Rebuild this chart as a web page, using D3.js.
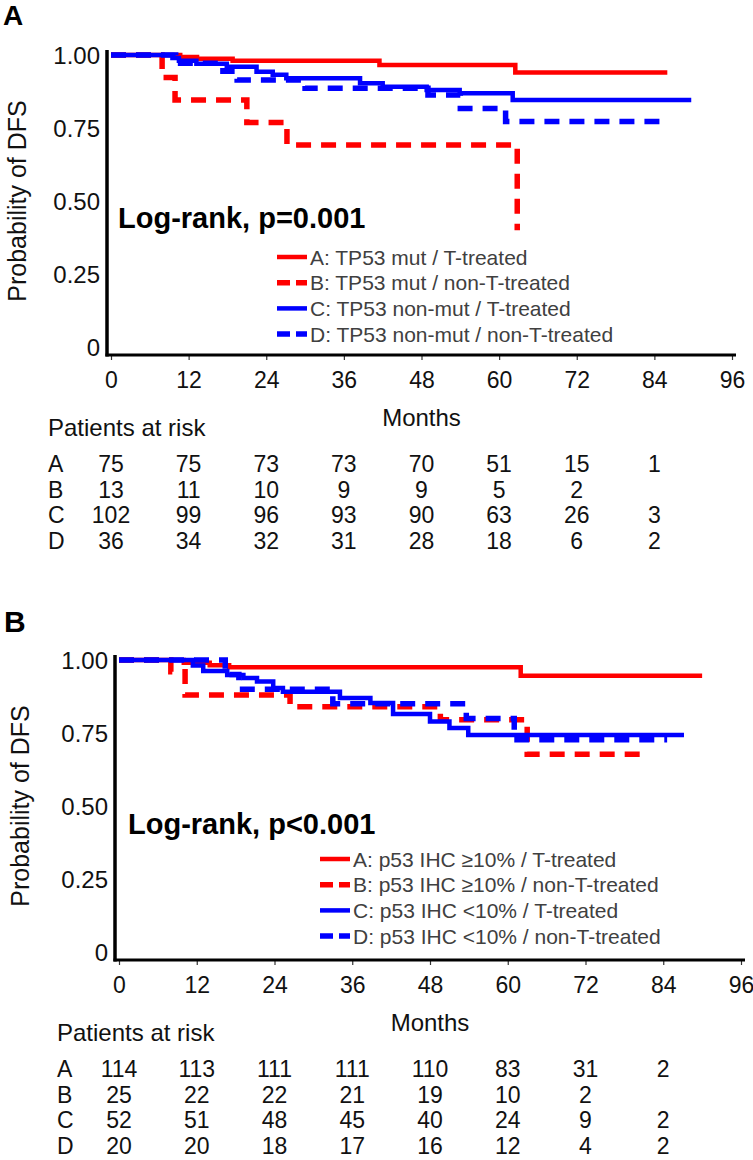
<!DOCTYPE html>
<html><head><meta charset="utf-8">
<script src="https://cdn.jsdelivr.net/npm/d3@7"></script>
<style>
body{margin:0;background:#fff;}
svg{display:block;font-family:"Liberation Sans",Arial,Helvetica,sans-serif;}
</style></head><body>
<svg id="chart" width="753" height="1160"></svg>
<script>
// ---------- data ----------
const monthTicks = [0, 12, 24, 36, 48, 60, 72, 84, 96];
const riskMonths = [0, 12, 24, 36, 48, 60, 72, 84];
const yTickValues = [0, 0.25, 0.5, 0.75, 1];
const yTickLabels = ["0", "0.25", "0.50", "0.75", "1.00"];
const groupLetters = ["A", "B", "C", "D"];
const groupColors = ["#ff0000", "#ff0000", "#0000ff", "#0000ff"];
const groupDashed = [false, true, false, true];

const legendTextA = ["A: TP53 mut / T-treated", "B: TP53 mut / non-T-treated",
                     "C: TP53 non-mut / T-treated", "D: TP53 non-mut / non-T-treated"];
const legendTextB = ["A: p53 IHC \u226510% / T-treated", "B: p53 IHC \u226510% / non-T-treated",
                     "C: p53 IHC <10% / T-treated", "D: p53 IHC <10% / non-T-treated"];
const pTextA = "Log-rank, p=0.001";
const pTextB = "Log-rank, p<0.001";

// Kaplan-Meier curves, [month, survival]; last point = end of follow-up
const kmA_A = [[0,1],[10.7,0.993],[13.3,0.987],[18.8,0.98],[41.5,0.966],[62.5,0.94],[86,0.94]];
const kmA_B = [[0,1],[7.9,0.923],[9.9,0.846],[21,0.769],[27.2,0.692],[62.8,0.40]];
const kmA_C = [[0,1],[9.5,0.99],[10.5,0.98],[13.2,0.97],[17.9,0.96],[22.5,0.943],[25,0.932],[27.1,0.92],
               [38.5,0.903],[42,0.891],[48.8,0.88],[53.9,0.869],[62.1,0.846],[89.7,0.846]];
const kmA_D = [[0,1],[10,0.972],[17.3,0.944],[19.5,0.914],[30,0.886],[49,0.863],[54,0.817],[61,0.772],[85,0.772]];

const kmB_A = [[0,1],[10,0.991],[14,0.982],[17,0.975],[62,0.946],[90,0.946]];
const kmB_B = [[0,1],[8,0.96],[10.2,0.88],[26.4,0.84],[49.6,0.795],[63,0.677],[81.7,0.677]];
const kmB_C = [[0,1],[11.4,0.981],[13,0.962],[16.7,0.949],[19.2,0.938],[21.3,0.926],[23.8,0.904],[25.3,0.891],
               [34.1,0.87],[38.8,0.853],[42.3,0.815],[48,0.789],[51,0.767],[53.9,0.743],[87.2,0.743]];
const kmB_D = [[0,1],[16.4,0.95],[18.5,0.90],[33,0.85],[53.6,0.80],[61,0.727],[84.6,0.727]];

// patients at risk
const riskA_A = [75, 75, 73, 73, 70, 51, 15, 1];
const riskA_B = [13, 11, 10, 9, 9, 5, 2];
const riskA_C = [102, 99, 96, 93, 90, 63, 26, 3];
const riskA_D = [36, 34, 32, 31, 28, 18, 6, 2];
const riskB_A = [114, 113, 111, 111, 110, 83, 31, 2];
const riskB_B = [25, 22, 22, 21, 19, 10, 2];
const riskB_C = [52, 51, 48, 45, 40, 24, 9, 2];
const riskB_D = [20, 20, 18, 17, 16, 12, 4, 2];

// ---------- layout ----------
const panels = [
  {label:"A", labelX:3, labelY:25, labelSize:28, x0:111, x1:732, yTop:55, yBot:347, axisX:107, axisY:355,
   curves:[kmA_A,kmA_B,kmA_C,kmA_D], legend:legendTextA, legendX:277, legendY:257,
   pText:pTextA, pX:118, pY:228, titleX:26, tableX:48, risk:[riskA_A,riskA_B,riskA_C,riskA_D]},
  {label:"B", labelX:4, labelY:632, labelSize:30, x0:119, x1:741, yTop:660, yBot:952, axisX:115, axisY:960,
   curves:[kmB_A,kmB_B,kmB_C,kmB_D], legend:legendTextB, legendX:320, legendY:859,
   pText:pTextB, pX:128, pY:834, titleX:29, tableX:57, risk:[riskB_A,riskB_B,riskB_C,riskB_D]}
];

const svg = d3.select("#chart");

function drawPanel(p) {
  const g = svg.append("g");
  const x = d3.scaleLinear().domain([0, 96]).range([p.x0, p.x1]);
  const y = d3.scaleLinear().domain([0, 1]).range([p.yBot, p.yTop]);

  g.append("text").attr("x", p.labelX).attr("y", p.labelY)
    .attr("font-size", p.labelSize).attr("font-weight", "bold").attr("fill", "#000").text(p.label);

  // curves
  const line = d3.line().x(d => x(d[0])).y(d => y(d[1])).curve(d3.curveStepAfter);
  p.curves.forEach((c, i) => {
    g.append("path").attr("d", line(c)).attr("fill", "none")
      .attr("stroke", groupColors[i])
      .attr("stroke-width", groupDashed[i] ? 5.5 : 4.5)
      .attr("stroke-dasharray", groupDashed[i] ? "15,10" : null);
  });

  // y axis
  const ya = g.append("g").attr("transform", `translate(${p.axisX},0)`)
    .call(d3.axisLeft(y).tickValues(yTickValues).tickSize(0).tickPadding(7)
      .tickFormat(d => yTickLabels[yTickValues.indexOf(d)]));
  ya.select(".domain").remove();
  ya.attr("font-family", null);
  ya.selectAll("text").attr("font-size", 24).attr("fill", "#111").attr("dy", "0.34em");
  g.append("line").attr("x1", p.axisX).attr("x2", p.axisX).attr("y1", p.yTop - 5).attr("y2", p.axisY + 1.5)
    .attr("stroke", "#000").attr("stroke-width", 3.5);

  // x axis
  const xa = g.append("g").attr("transform", `translate(0,${p.axisY})`)
    .call(d3.axisBottom(x).tickValues(monthTicks).tickSize(5).tickFormat(d3.format("d")));
  xa.select(".domain").remove();
  xa.attr("font-family", null);
  xa.selectAll("line").attr("stroke", "#333").attr("stroke-width", 1.2);
  xa.selectAll("text").attr("font-size", 23).attr("fill", "#111").attr("y", 33).attr("dy", 0);
  g.append("line").attr("x1", p.axisX - 1.5).attr("x2", x(96) + 4).attr("y1", p.axisY).attr("y2", p.axisY)
    .attr("stroke", "#000").attr("stroke-width", 3);

  // y title
  g.append("text").attr("transform", `translate(${p.titleX},${y(0.5)}) rotate(-90)`)
    .attr("text-anchor", "middle").attr("font-size", 25).attr("fill", "#111").text("Probability of DFS");

  // log-rank
  g.append("text").attr("x", p.pX).attr("y", p.pY).attr("font-size", 29).attr("font-weight", "bold")
    .attr("fill", "#000").text(p.pText);

  // legend
  p.legend.forEach((t, i) => {
    const ly = p.legendY + i * 25.7;
    g.append("line").attr("x1", p.legendX).attr("x2", p.legendX + 30).attr("y1", ly).attr("y2", ly)
      .attr("stroke", groupColors[i]).attr("stroke-width", groupDashed[i] ? 5.5 : 4.5)
      .attr("stroke-dasharray", groupDashed[i] ? "13,6" : null);
    g.append("text").attr("x", p.legendX + 33).attr("y", ly + 7.5).attr("font-size", 21)
      .attr("fill", "#404040").text(t);
  });

  // risk table
  g.append("text").attr("x", x(48)).attr("y", p.axisY + 71).attr("text-anchor", "middle")
    .attr("font-size", 24).attr("fill", "#111").text("Months");
  g.append("text").attr("x", p.tableX).attr("y", p.axisY + 81)
    .attr("font-size", 24).attr("fill", "#111").text("Patients at risk");
  p.risk.forEach((row, i) => {
    const by = p.axisY + 117 + i * 25.5;
    g.append("text").attr("x", p.tableX).attr("y", by).attr("font-size", 23).attr("fill", "#111").text(groupLetters[i]);
    row.forEach((v, j) => {
      g.append("text").attr("x", x(riskMonths[j])).attr("y", by).attr("text-anchor", "middle")
        .attr("font-size", 23).attr("fill", "#111").text(v);
    });
  });
}

panels.forEach(drawPanel);
</script>
</body></html>
